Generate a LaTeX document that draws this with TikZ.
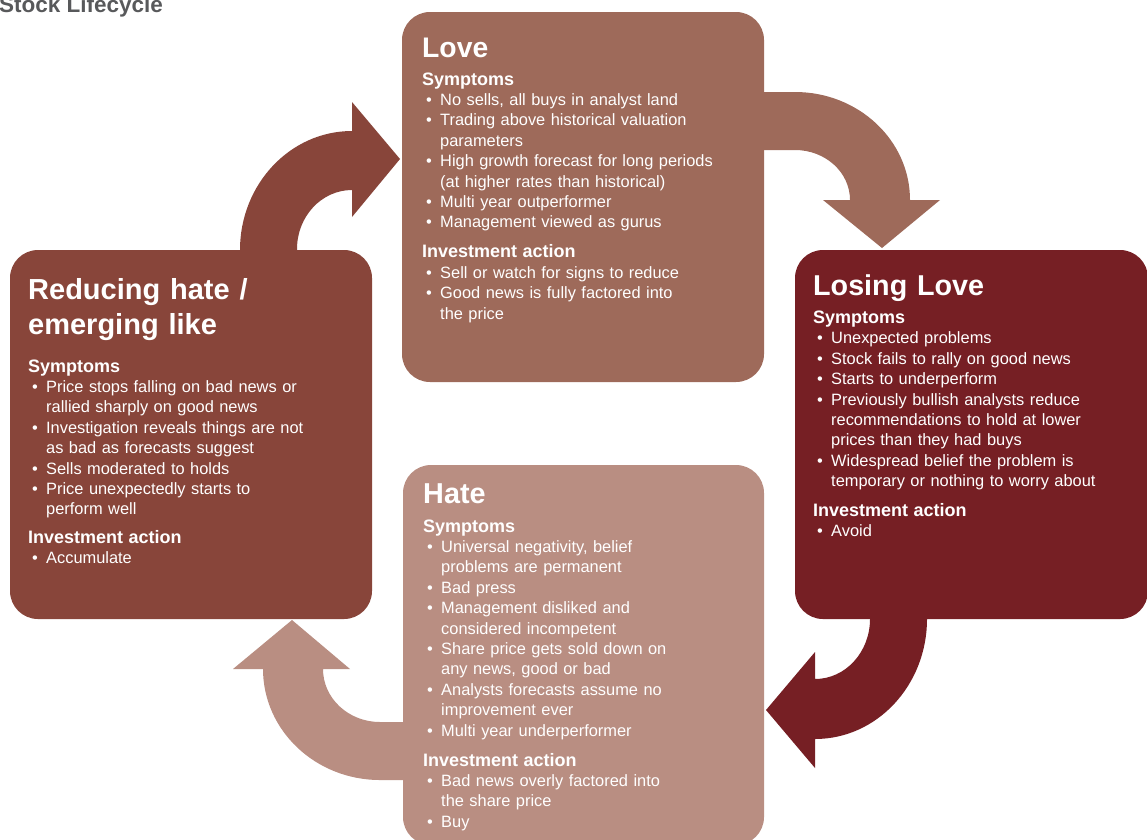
\documentclass[tikz,border=0pt]{standalone}
\usepackage{fontspec}
\setmainfont{Liberation Sans}
\usetikzlibrary{positioning}

\definecolor{lovecol}{HTML}{9E6A5A}
\definecolor{losecol}{HTML}{761F24}
\definecolor{hatecol}{HTML}{B98E82}
\definecolor{likecol}{HTML}{88453A}
\definecolor{headgray}{HTML}{58595B}

\newcommand{\stagetitle}[2]{{\fontsize{#1}{35}\selectfont\bfseries\spaceskip=0.34em #2\par}}
\newcommand{\stagehead}[2]{{\fontsize{18}{#1}\selectfont\bfseries #2\par}}
\newcommand{\bitem}[1]{{\makebox[18pt][l]{\hspace{4pt}\textbullet}#1\par}}
\newcommand{\bmore}[1]{{\hspace*{18pt}#1\par}}

\tikzset{
  stage/.style={rectangle, rounded corners=28pt, draw=none, inner sep=0pt, outer sep=0pt, anchor=north west},
  stagetext/.style={anchor=base west, inner sep=0pt, text=white, align=left, text width=330pt,
    font=\fontsize{16.4}{20.4}\selectfont},
}

\begin{document}
\begin{tikzpicture}[x=1pt, y=-1pt]
\useasboundingbox (0,0) rectangle (1147,839);

\node[anchor=base west, inner sep=0pt, text=headgray, font=\fontsize{22.5}{27}\selectfont\bfseries] (heading) at (-1,12) {Stock Lifecycle};

% block arrows between the stages
\fill[likecol] (240,262) -- (240,250) arc[start angle=180, end angle=270, x radius=112, y radius=119]
  -- (352,102) -- (400,159) -- (352,217) -- (352,190)
  arc[start angle=270, end angle=180, x radius=55, y radius=59] -- (297,262) -- cycle;
\fill[lovecol] (752,150) -- (752,92) -- (795,92) arc[start angle=270, end angle=360, x radius=115, y radius=108]
  -- (940,200) -- (882,248) -- (823,200) -- (850,200)
  arc[start angle=0, end angle=-90, x radius=55, y radius=50] -- cycle;
\fill[losecol] (927,610) -- (927,619) arc[start angle=0, end angle=90, x radius=112, y radius=120]
  -- (815,768) -- (766,710) -- (815,652) -- (815,679)
  arc[start angle=90, end angle=0, x radius=55, y radius=60] -- (870,610) -- cycle;
\fill[hatecol] (410,780) -- (380,780) arc[start angle=90, end angle=180, x radius=117, y radius=111]
  -- (233,669) -- (292,620) -- (350,669) -- (323,669)
  arc[start angle=180, end angle=90, x radius=57, y radius=53] -- (410,722) -- cycle;

% stage boxes
\node[stage, fill=lovecol, minimum width=362pt, minimum height=370pt] (love) at (402,12) {};
\node[stage, fill=likecol, minimum width=362pt, minimum height=369pt] (like) at (10,250) {};
\node[stage, fill=losecol, minimum width=353pt, minimum height=369pt] (losing) at (795,250) {};
\node[stage, fill=hatecol, minimum width=361pt, minimum height=380pt] (hate) at (403,465) {};

\node[stagetext] (lovetxt) at (422,57) {%
  \stagetitle{28.3}{Love}
  \stagehead{28}{Symptoms}
  \bitem{No sells, all buys in analyst land}
  \bitem{Trading above historical valuation}
  \bmore{parameters}
  \bitem{High growth forecast for long periods}
  \bmore{(at higher rates than historical)}
  \bitem{Multi year outperformer}
  \bitem{Management viewed as gurus}
  \stagehead{30}{Investment action}
  \bitem{Sell or watch for signs to reduce}
  \bitem{Good news is fully factored into}
  \bmore{the price}};

\node[stagetext] (liketxt) at (28,299) {%
  \stagetitle{29}{Reducing hate /\\emerging like}
  \stagehead{38}{Symptoms}
  \bitem{Price stops falling on bad news or}
  \bmore{rallied sharply on good news}
  \bitem{Investigation reveals things are not}
  \bmore{as bad as forecasts suggest}
  \bitem{Sells moderated to holds}
  \bitem{Price unexpectedly starts to}
  \bmore{perform well}
  \stagehead{28.5}{Investment action}
  \bitem{Accumulate}};

\node[stagetext] (losingtxt) at (813,295) {%
  \stagetitle{28.7}{Losing Love}
  \stagehead{28.5}{Symptoms}
  \bitem{Unexpected problems}
  \bitem{Stock fails to rally on good news}
  \bitem{Starts to underperform}
  \bitem{Previously bullish analysts reduce}
  \bmore{recommendations to hold at lower}
  \bmore{prices than they had buys}
  \bitem{Widespread belief the problem is}
  \bmore{temporary or nothing to worry about}
  \stagehead{29.5}{Investment action}
  \bitem{Avoid}};

\node[stagetext] (hatetxt) at (423,503) {%
  \stagetitle{28.8}{Hate}
  \stagehead{29}{Symptoms}
  \bitem{Universal negativity, belief}
  \bmore{problems are permanent}
  \bitem{Bad press}
  \bitem{Management disliked and}
  \bmore{considered incompetent}
  \bitem{Share price gets sold down on}
  \bmore{any news, good or bad}
  \bitem{Analysts forecasts assume no}
  \bmore{improvement ever}
  \bitem{Multi year underperformer}
  \stagehead{30}{Investment action}
  \bitem{Bad news overly factored into}
  \bmore{the share price}
  \bitem{Buy}};
\end{tikzpicture}
\end{document}
